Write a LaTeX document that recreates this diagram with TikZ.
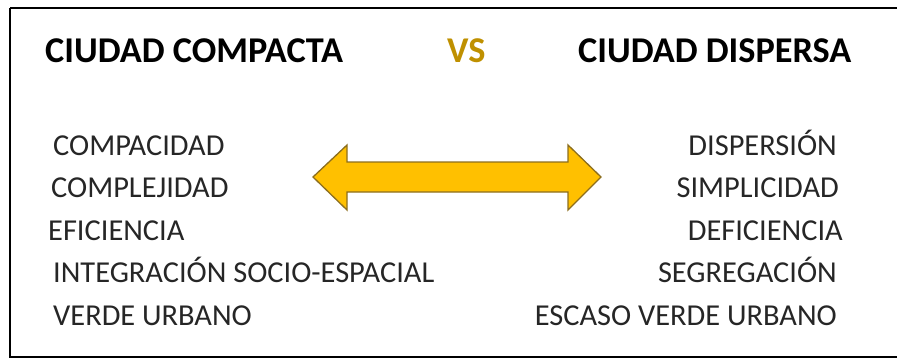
\documentclass[tikz,border=0pt]{standalone}
\usepackage{fontspec}
\setmainfont{Carlito}
\usepackage{xcolor}
\usetikzlibrary{positioning,calc}

\definecolor{vsgold}{RGB}{191,144,0}
\definecolor{arrowfill}{RGB}{255,192,0}
\definecolor{arrowline}{RGB}{140,110,30}

\begin{document}
\begin{tikzpicture}[
    x=1pt, y=-1pt,
    title/.style={inner sep=0pt, anchor=base west, font=\fontsize{36.3}{40}\selectfont\bfseries},
    vs/.style={inner sep=0pt, anchor=base west, text=vsgold, font=\fontsize{36.3}{40}\selectfont\bfseries},
    iteml/.style={inner sep=0pt, anchor=base west, text=black!85, font=\fontsize{30.4}{34}\selectfont},
    itemr/.style={inner sep=0pt, anchor=base east, text=black!85, font=\fontsize{30.4}{34}\selectfont},
    bigarrow/.style={fill=arrowfill, draw=arrowline, line width=1.3pt, line join=miter}
  ]
  \useasboundingbox (0,0) rectangle (897,360);
  \clip (0,0) rectangle (897,360);
  \draw[line width=2.6pt] (10,8) -- (905,8);
  \draw[line width=2.6pt] (10,8) -- (10,357) -- (905,357);

  % titulos
  \node[title] (tc) at (45,62) {CIUDAD COMPACTA};
  \node[vs] (vs) at (447,62) {VS};
  \node[title] (td) at (578,62) {CIUDAD DISPERSA};

  % ciudad compacta
  \node[iteml] (c1) at (53,155) {COMPACIDAD};
  \node[iteml] (c2) at (51,197) {COMPLEJIDAD};
  \node[iteml] (c3) at (48,240) {EFICIENCIA};
  \node[iteml] (c4) at (53,282) {INTEGRACIÓN SOCIO-ESPACIAL};
  \node[iteml] (c5) at (53,325) {VERDE URBANO};

  % ciudad dispersa
  \node[itemr] (d1) at (837,155) {DISPERSIÓN};
  \node[itemr] (d2) at (839,197) {SIMPLICIDAD};
  \node[itemr] (d3) at (843,240) {DEFICIENCIA};
  \node[itemr] (d4) at (837,282) {SEGREGACIÓN};
  \node[itemr] (d5) at (837,325) {ESCASO VERDE URBANO};

  % flecha doble
  \draw[bigarrow] (313,177) -- (347,145) -- (347,162) -- (568,162) -- (568,145)
    -- (601,177) -- (568,210) -- (568,192) -- (347,192) -- (347,210) -- cycle;

\end{tikzpicture}
\end{document}
